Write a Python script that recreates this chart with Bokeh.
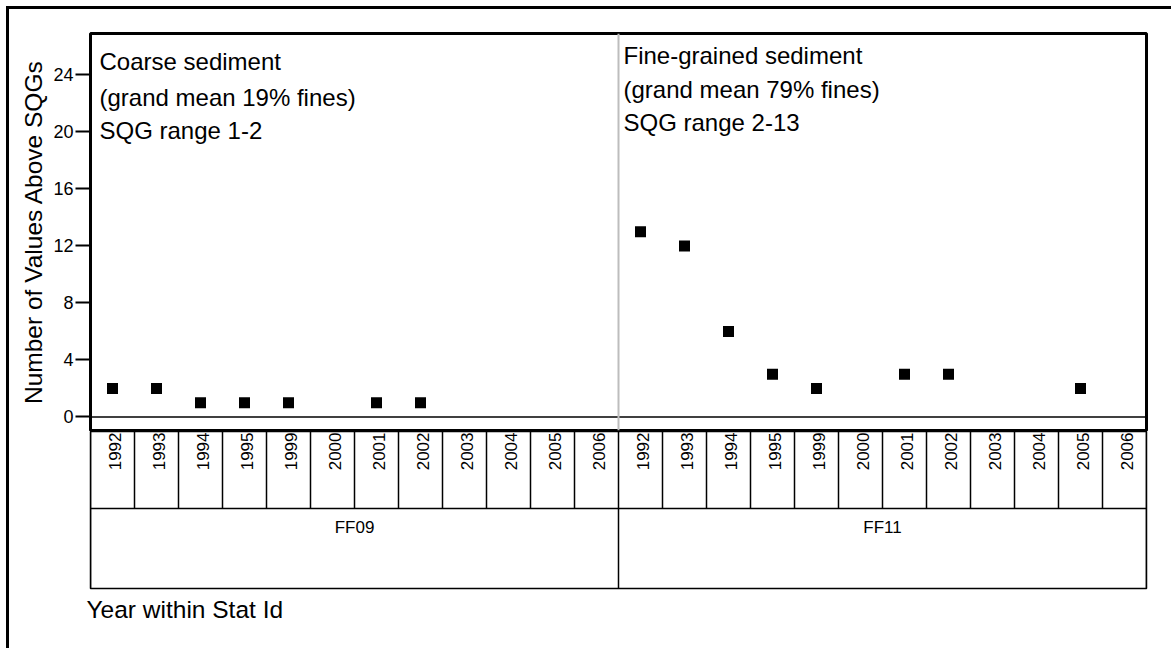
import math

from bokeh.core.properties import value
from bokeh.embed import file_html
from bokeh.layouts import column
from bokeh.models import (ColumnDataSource, FactorRange, FixedTicker, Range1d,
                          Span)
from bokeh.plotting import figure
from bokeh.resources import INLINE

# ---- data -------------------------------------------------------------------
stations = ["FF09", "FF11"]
years = ["1992", "1993", "1994", "1995", "1999", "2000",
         "2001", "2002", "2003", "2004", "2005", "2006"]
# number of analytes above the sediment quality guidelines (None = no value)
ff09_counts = [2, 2, 1, 1, 1, None, 1, 1, None, None, None, None]
ff11_counts = [13, 12, 6, 3, 2, None, 3, 3, None, None, 2, None]
y_ticks = [0, 4, 8, 12, 16, 20, 24]
panel_notes = {
    "FF09": ["Coarse sediment", "(grand mean 19% fines)", "SQG range 1-2"],
    "FF11": ["Fine-grained sediment", "(grand mean 79% fines)", "SQG range 2-13"],
}

# ---- layout constants (pixels) ----------------------------------------------
FONT = "Liberation Sans"
W, H = 1171, 648
LEFT, RIGHT = 90, 25
TOP = 33
FRAME_H = 397
Y0, Y1 = -0.95, 26.91

factors = [(s, y) for s in stations for y in years]
n = len(factors)
x_range = FactorRange(factors=factors, factor_padding=0, group_padding=0,
                      range_padding=0)

counts = {"FF09": ff09_counts, "FF11": ff11_counts}
px, py = [], []
for s in stations:
    for yr, c in zip(years, counts[s]):
        if c is not None:
            px.append((s, yr))
            py.append(c)
points = ColumnDataSource(dict(x=px, y=py))

# ---- main plot --------------------------------------------------------------
top_h = TOP + FRAME_H + 1
p = figure(width=W, height=top_h, x_range=x_range,
           y_range=Range1d(Y0, Y1), x_axis_location=None,
           output_backend="svg", toolbar_location=None,
           min_border_left=LEFT, min_border_right=RIGHT,
           min_border_top=TOP, min_border_bottom=1)
p.outline_line_color = "black"
p.outline_line_width = 3
p.grid.visible = False
p.background_fill_color = "white"
p.border_fill_color = "white"

ax = p.yaxis[0]
ax.ticker = FixedTicker(ticks=y_ticks)
ax.axis_line_color = None
ax.major_tick_out = 15
ax.major_tick_in = 0
ax.major_tick_line_width = 2
ax.major_tick_line_color = "black"
ax.minor_tick_line_color = None
ax.major_label_text_font = FONT
ax.major_label_text_font_size = "18px"
ax.major_label_text_color = "black"
ax.major_label_standoff = 2
ax.axis_label = "Number of Values Above SQGs"
ax.axis_label_text_font = FONT
ax.axis_label_text_font_size = "24.5px"
ax.axis_label_text_font_style = "normal"
ax.axis_label_text_color = "black"
ax.axis_label_standoff = 3

p.add_layout(Span(location=0, dimension="width", line_color="black",
                  line_width=1.5))
p.add_layout(Span(location=len(years), dimension="height",
                  line_color="#bdbdbd", line_width=2))

p.scatter("x", "y", source=points, marker="square", size=11,
          fill_color="black", line_color="black", line_width=0)

# three-line notes in the upper left corner of each station panel
note_rows = {"FF09": [24.91, 22.43, 20.08], "FF11": [25.39, 22.99, 20.67]}
note_dx = {"FF09": -13, "FF11": -17}
for s in stations:
    lines = panel_notes[s]
    src = ColumnDataSource(dict(x=[(s, years[0])] * len(lines),
                                y=note_rows[s], t=lines))
    p.text("x", "y", text="t", source=src, x_offset=note_dx[s],
           text_font=value(FONT), text_font_size="24px",
           text_baseline="alphabetic", text_align="left", text_color="black")

# ---- category table under the plot ------------------------------------------
YEAR_ROW = 77
TABLE_H = 157
t = figure(width=W, height=H - top_h, x_range=x_range,
           y_range=Range1d(TABLE_H, 0), x_axis_location=None,
           y_axis_location=None, output_backend="svg", toolbar_location=None,
           min_border_left=LEFT, min_border_right=RIGHT,
           min_border_top=0, min_border_bottom=H - top_h - TABLE_H,
           title="Year within Stat Id", title_location="below")
t.outline_line_color = "black"
t.outline_line_width = 1.5
t.grid.visible = False
t.background_fill_color = "white"
t.border_fill_color = "white"
t.title.align = "left"
t.title.offset = -4
t.title.standoff = 10
t.title.text_font = FONT
t.title.text_font_size = "24.5px"
t.title.text_font_style = "normal"
t.title.text_color = "black"

edges = list(range(n + 1))
t.segment(x0=edges, x1=edges, y0=[0] * len(edges), y1=[YEAR_ROW] * len(edges),
          line_color="black", line_width=1.5)
t.segment(x0=[0], x1=[n], y0=[YEAR_ROW], y1=[YEAR_ROW],
          line_color="black", line_width=1.5)
st_edges = [i * len(years) for i in range(len(stations) + 1)]
t.segment(x0=st_edges, x1=st_edges, y0=[YEAR_ROW] * len(st_edges),
          y1=[TABLE_H] * len(st_edges), line_color="black", line_width=1.5)

t.text(x=factors, y=[1] * n, text=[f[1] for f in factors], angle=math.pi / 2,
       text_align="right", text_baseline="middle", x_offset=2,
       text_font=value(FONT), text_font_size="17px", text_color="black")
t.text(x=stations, y=[96] * len(stations), text=stations,
       text_align="center", text_baseline="middle",
       text_font=value(FONT), text_font_size="17px", text_color="black")

# page border along the left and top edges
border_css = (":host::after { content: ''; position: absolute; left: 5.5px; "
              "top: 5.5px; right: 0; bottom: 0; border-left: 3px solid #000; "
              "border-top: 3px solid #000; pointer-events: none; }")
layout = column(p, t, spacing=0, stylesheets=[border_css])
open("out.html", "w").write(file_html(layout, INLINE))
